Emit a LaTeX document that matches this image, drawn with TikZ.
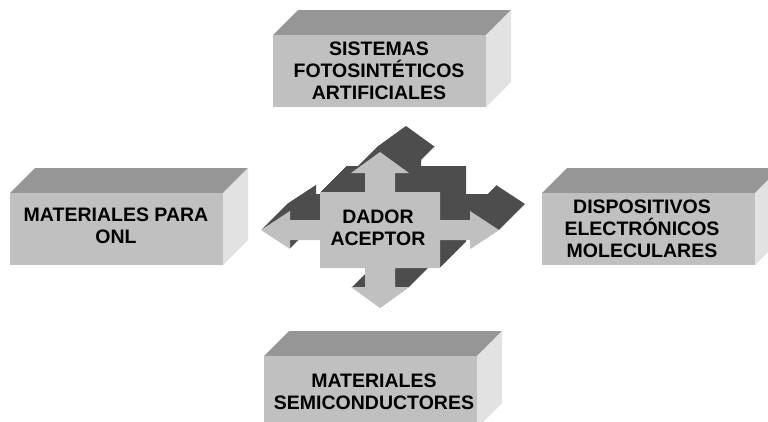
\documentclass[tikz,border=0pt]{standalone}
\usepackage{fontspec}
\setmainfont{Liberation Sans}
\definecolor{frente}{HTML}{C0C0C0}
\definecolor{techo}{HTML}{969696}
\definecolor{lado}{HTML}{E2E2E2}
\definecolor{sombra}{HTML}{4D4D4D}
\begin{document}
\begin{tikzpicture}[x=1pt,y=-1pt,
  rotulo/.style={align=center,font=\fontsize{19.5}{22}\selectfont\bfseries,inner sep=0pt}]
  \clip (0,0) rectangle (768,421);
  \fill[white] (0,0) rectangle (768,421);
  % the four boxes, front corner at (x,y), 213x73, depth 25
  \foreach \x/\y in {273/35,10/193,542/193,264/356}{
    \fill[techo] (\x,\y)--(\x+213,\y)--(\x+238,\y-25)--(\x+25,\y-25)--cycle;
    \fill[lado] (\x+213,\y)--(\x+238,\y-25)--(\x+238,\y+47)--(\x+213,\y+72)--cycle;
    \fill[frente] (\x,\y) rectangle (\x+213,\y+72);
  }
  \draw (379,71) node[rotulo] (sistemas) {SISTEMAS\\FOTOSINTÉTICOS\\ARTIFICIALES};
  \draw (116,226) node[rotulo] (onl) {MATERIALES PARA\\ONL};
  \draw (642,229) node[rotulo] (dispositivos) {DISPOSITIVOS\\ELECTRÓNICOS\\MOLECULARES};
  \draw (374,392) node[rotulo] (semicond) {MATERIALES\\SEMICONDUCTORES};
  % the cross of four arrows, swept back for depth
  \def\cruz{(0,-78)--(29,-57)--(15,-57)--(15,-38)--(60,-38)--(60,-10)--(90,-10)
    --(90,-19)--(119,0)--(90,19)--(90,10)--(60,10)--(60,38)--(15,38)--(15,57)
    --(29,57)--(0,78)--(-29,57)--(-15,57)--(-15,38)--(-60,38)--(-60,10)--(-90,10)
    --(-90,19)--(-119,0)--(-90,-19)--(-90,-10)--(-60,-10)--(-60,-38)--(-15,-38)
    --(-15,-57)--(-29,-57)--cycle}
  \foreach \s in {26,25,...,1}
    \fill[sombra,shift={(380+\s,230-\s)}] \cruz;
  \fill[frente,shift={(380,230)}] \cruz;
  \draw (378,228) node[rotulo] (dador) {DADOR\\ACEPTOR};
\end{tikzpicture}
\end{document}
